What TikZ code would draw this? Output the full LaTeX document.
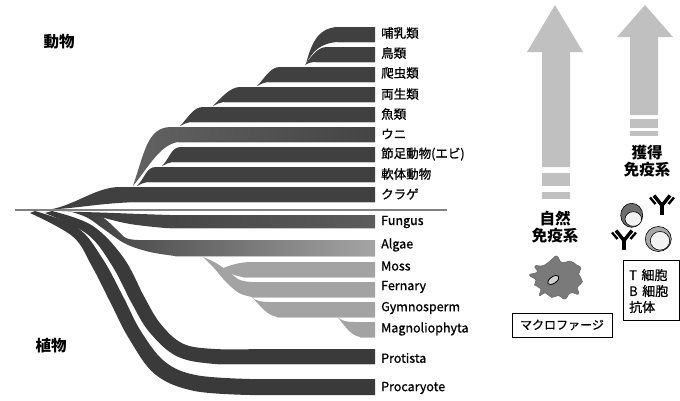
\documentclass[tikz,border=0pt]{standalone}
\usepackage{fontspec}
\setmainfont{Noto Sans CJK JP}
\newfontfamily\labfont{Noto Sans CJK JP}[FakeBold=0.9]
\usetikzlibrary{calc}

\definecolor{bandcol}{RGB}{64,64,64}
\definecolor{deepband}{RGB}{58,58,58}
\definecolor{lightband}{RGB}{163,163,163}
\definecolor{arrowcol}{RGB}{192,192,192}
\definecolor{rootcol}{RGB}{128,128,128}
\definecolor{shadowcol}{RGB}{200,200,200}

\tikzset{
  lab/.style={anchor=west, inner sep=0pt, font=\labfont\fontsize{12.5}{14}\selectfont},
  head/.style={inner sep=0pt, font=\bfseries\fontsize{15.5}{18}\selectfont, align=center},
  shadowline/.style={draw=shadowcol, line width=0.9pt},
  bigarrow/.style={fill=arrowcol},
  boxed/.style={draw=black, line width=0.6pt, inner sep=0pt},
  heavychain/.style={line width=3.4pt, line cap=butt, black},
  lightchain/.style={line width=2.4pt, line cap=butt, black},
}

% a branch that peels off the bar below: top-left x, tip x, top y, bottom y
\newcommand{\stairband}[4]{%
  \fill[bandcol] (#2,{#4+4}) .. controls ({#2+8},{#4-4}) and ({#1-7},#3) .. ({#1+3},#3)
     -- (375,#3) -- (375,#4) -- ({#2+11},#4)
     .. controls ({#2+6},{#4+1}) and ({#2+3},{#4+2}) .. (#2,{#4+4}) -- cycle;
  \draw[shadowline] ({#2+11},{#4+0.7}) -- (375,{#4+0.7});
}

% a Y-shaped antibody whose hinge sits at the named coordinate #1
\newcommand{\antibodyat}[1]{%
  \draw[heavychain] (#1) -- ++(0,11);
  \draw[heavychain] ($(#1)+(0,1.5)$) -- ++(-8,-10);
  \draw[heavychain] ($(#1)+(0,1.5)$) -- ++(8,-10);
  \draw[lightchain] ($(#1)+(-6.5,0)$) -- ++(-5.5,-6.5);
  \draw[lightchain] ($(#1)+(6.5,0)$) -- ++(5.5,-6.5);
}

\begin{document}
\begin{tikzpicture}[x=1pt,y=-1pt]
\useasboundingbox (0,0) rectangle (680,400);

% ---------- animal branches ----------
% jellyfish, straight from the root
\fill[bandcol] (50,209.5) .. controls (75,205) and (95,188) .. (118,187) -- (375,187)
   -- (375,202) -- (140,202) .. controls (100,203) and (80,208) .. (50,209.5) -- cycle;
\draw[shadowline] (130,202.7) -- (375,202.7);
% sea urchin, long thin stem
\shade[left color={rgb,255:red,98;green,98;blue,98}, right color={rgb,255:red,68;green,68;blue,68}]
  (133,186) .. controls (145,150) and (148,128) .. (170,127) -- (375,127) -- (375,142)
  -- (178,142) .. controls (160,145) and (150,165) .. (133,186) -- cycle;
\draw[shadowline] (178,142.7) -- (375,142.7);
\stairband{153}{137}{167}{182}
\stairband{178}{162}{147}{162}
\stairband{200}{180}{107}{122}
\stairband{237}{213}{87}{102}
\stairband{277}{257}{67}{82}
% birds and mammals
\fill[bandcol] (305,65) .. controls (312,55) and (318,47) .. (327,47) -- (375,47) -- (375,62)
   -- (316,62) .. controls (312,62) and (308,63) .. (305,65) -- cycle;
\draw[shadowline] (316,62.7) -- (375,62.7);
\fill[bandcol] (306,64) .. controls (312,40) and (320,28) .. (337,27) -- (375,27) -- (375,42)
   -- (338,42) .. controls (320,43) and (312,52) .. (306,64) -- cycle;
\draw[shadowline] (338,42.7) -- (375,42.7);

% ---------- root line ----------
\draw[rootcol, line width=1.6pt] (15,210) -- (447,210);

% ---------- plant side ----------
% fungus
\shade[left color=deepband, right color={rgb,255:red,92;green,92;blue,92}]
  plot[smooth, tension=0.6] coordinates {(62,211.5) (100,212.5) (140,214) (170,215)} -- (375,215)
  -- (375,228) -- plot[smooth, tension=0.6] coordinates {(165,228) (130,224) (100,217) (75,212)} -- cycle;
\draw[shadowline] (170,228.7) -- (375,228.7);
% algae
\shade[left color=deepband, right color={rgb,255:red,165;green,165;blue,165}]
  plot[smooth, tension=0.6] coordinates {(84,212) (102,217) (116,229) (126,238) (138,240)} -- (375,240)
  -- (375,256) -- plot[smooth, tension=0.6] coordinates {(175,256) (150,252) (126,244) (105,230) (88,218) (72,212)} -- cycle;
\draw[shadowline] (175,256.7) -- (375,256.7);
% ferns hang from the algae
\fill[lightband] plot[smooth, tension=0.6] coordinates {(203,257) (216,263) (229,272) (240,280) (252,282)} -- (375,282)
  -- (375,297) -- plot[smooth, tension=0.6] coordinates {(252,297) (239,293) (226,282) (214,268) (203,257)} -- cycle;
\draw[shadowline] (252,297.7) -- (375,297.7);
% moss
\fill[lightband] (221,269) .. controls (230,265) and (240,262) .. (252,262) -- (375,262) -- (375,277)
  -- (243,277) .. controls (235,276) and (228,273) .. (221,269) -- cycle;
\draw[shadowline] (243,277.7) -- (375,277.7);
% gymnosperms
\fill[lightband] (252,297.5) .. controls (256,301) and (262,302) .. (270,302) -- (375,302) -- (375,317)
  -- (277,317) .. controls (266,315) and (260,305) .. (252,297.5) -- cycle;
\draw[shadowline] (277,317.7) -- (375,317.7);
% flowering plants
\fill[lightband] (338,317.5) .. controls (342,321) and (347,322) .. (354,322) -- (375,322) -- (375,337)
  -- (360,337) .. controls (350,335) and (345,326) .. (338,317.5) -- cycle;
\draw[shadowline] (360,337.7) -- (375,337.7);
% protists
\fill[deepband] plot[smooth, tension=0.6] coordinates {(52,211) (92.5,225.7) (123.7,258) (144.3,296.9) (160.7,324) (183.1,343.7) (215,349) (260,349)}
  -- (375,349) -- (375,364) -- plot[smooth, tension=0.6] coordinates {(260,364) (215,364) (176.9,356.3) (149.3,332) (131.7,303.1) (112.3,266) (87.5,234.3) (45,213)} -- cycle;
\draw[shadowline] (220,364.7) -- (375,364.7);
% prokaryotes
\fill[deepband] plot[smooth, tension=0.6] coordinates {(35,211) (77.5,227.7) (102.6,258.7) (123.3,296.9) (141,331.4) (165,361.8) (196.6,375.2) (250,379)}
  -- (375,379) -- (375,395) -- plot[smooth, tension=0.6] coordinates {(250,395) (193.4,390.8) (155,374.2) (129,338.6) (110.7,303.1) (91.4,265.3) (72.5,236.3) (30,213)} -- cycle;

% ---------- group headings ----------
\node[head] (animals) at (59,42) {動物};
\node[head] (plants) at (51,346) {植物};

% ---------- branch labels ----------
\node[lab] (mammal)  at (381,33)  {哺乳類};
\node[lab] (bird)    at (381,53)  {鳥類};
\node[lab] (reptile) at (381,73)  {爬虫類};
\node[lab] (amphib)  at (381,94)  {両生類};
\node[lab] (fish)    at (381,114) {魚類};
\node[lab] (urchin)  at (381,134) {ウニ};
\node[lab] (arthro)  at (381,154) {節足動物(エビ)};
\node[lab] (mollusc) at (381,174) {軟体動物};
\node[lab] (jelly)   at (381,194) {クラゲ};
\node[lab] (fungus)  at (381,222) {Fungus};
\node[lab] (algae)   at (381,245) {Algae};
\node[lab] (moss)    at (381,266) {Moss};
\node[lab] (fern)    at (381,287) {Fernary};
\node[lab] (gymno)   at (381,308) {Gymnosperm};
\node[lab] (magno)   at (381,329) {Magnoliophyta};
\node[lab] (protist) at (381,358) {Protista};
\node[lab] (prok)    at (381,388) {Procaryote};

% ---------- innate immunity arrow ----------
\fill[bigarrow] (555,5) -- (583,52) -- (570,52) -- (570,167) -- (542,167) -- (542,52) -- (527,52) -- cycle;
\fill[bigarrow] (542,173) rectangle (570,186);
\fill[bigarrow] (542,192) rectangle (570,199);
\node[head] (innate) at (555,227) {自然\\[-1pt]免疫系};

% ---------- acquired immunity arrow ----------
\fill[bigarrow] (645,5) -- (673,37) -- (658,37) -- (658,115) -- (630,115) -- (630,37) -- (617,37) -- cycle;
\fill[bigarrow] (630,119) rectangle (658,128);
\fill[bigarrow] (630,131) rectangle (658,136);
\node[head] (acquired) at (647,161) {獲得\\[-1pt]免疫系};

% ---------- macrophage ----------
\fill[fill={rgb,255:red,122;green,122;blue,122}, draw=black!60, line width=0.5pt]
  plot[smooth cycle, tension=0.9] coordinates {
  (551.7,259.5) (556.7,256) (562,262.5) (570,261) (576.7,265) (581,268)
  (578.8,274) (582.5,281.7) (577.5,287) (578.5,294) (570.5,293) (565,299)
  (558.5,295.5) (551.7,297.5) (545.5,293) (539.5,295.5) (540.5,288.5) (534.5,285)
  (536,280) (529.5,275) (537,272) (535,266) (543.3,265.5)};
\draw[fill=black!18, draw=black, line width=0.8pt, rotate around={35:(553.3,280)}]
  (553.3,280) ellipse [x radius=6.5, y radius=3.3];
\node[boxed, minimum width=100pt, minimum height=24pt, font=\labfont\fontsize{12}{14}\selectfont]
  (macro) at (562,325) {マクロファージ};

% ---------- lymphocytes ----------
\draw[fill={rgb,255:red,110;green,110;blue,110}, line width=0.6pt] (631.7,215.3) ellipse [x radius=11, y radius=12];
\draw[fill=black!5, line width=0.6pt] (633.3,219) ellipse [x radius=8.3, y radius=7.3];
\draw[fill={rgb,255:red,168;green,168;blue,168}, line width=0.6pt] (658.3,239) ellipse [x radius=13, y radius=12.5];
\draw[fill=black!5, line width=0.6pt] (660,240.8) ellipse [x radius=9.7, y radius=9.3];

% ---------- antibodies ----------
\coordinate (ab1) at (662,204);
\antibodyat{ab1}
\coordinate (ab2) at (624,239);
\antibodyat{ab2}

\node[boxed, minimum width=56pt, minimum height=60pt] (cellbox) at (651,290) {};
\node[anchor=west, inner sep=0pt, align=left, font=\labfont\fontsize{13}{16}\selectfont]
  (celltext) at (629,291) {T\hspace{4.5pt}細胞\\B\hspace{4.5pt}細胞\\抗体};
\end{tikzpicture}
\end{document}
